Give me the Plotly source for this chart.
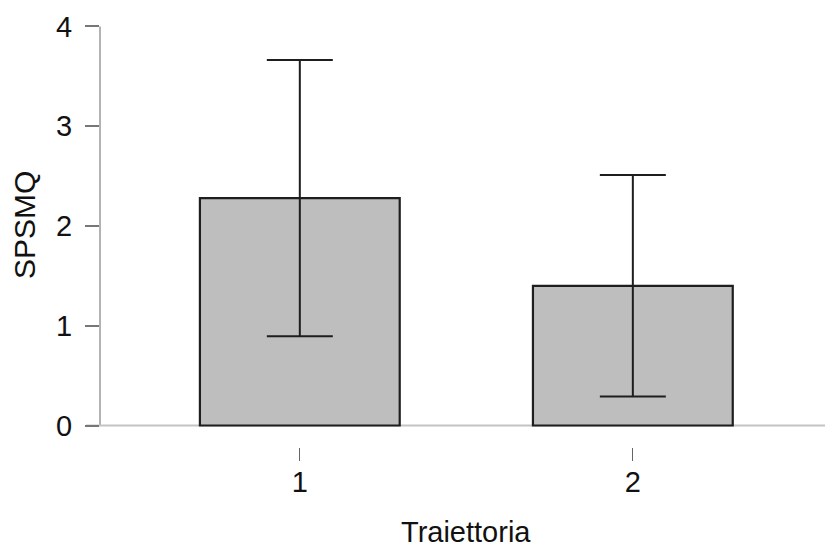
import plotly.graph_objects as go

# Mean SPSMQ score per trajectory group, with standard deviation
categories = ["1", "2"]
positions = [1, 2]
means = [2.28, 1.40]
sd = [1.385, 1.11]
y_ticks = [0, 1, 2, 3, 4]

FONT = "Liberation Sans, Arial, sans-serif"
FS = 29

fig = go.Figure()
fig.add_trace(go.Bar(
    x=positions,
    y=means,
    width=0.6,
    marker=dict(color="#bebebe", line=dict(color="#1e1e1e", width=2.2)),
    error_y=dict(type="data", array=sd, visible=True,
                 color="#1e1e1e", thickness=2, width=33),
    hoverinfo="skip",
))

# Axis lines: y axis spans the tick range only, x baseline runs across
fig.add_shape(type="line", xref="paper", yref="y", x0=0, x1=0, y0=0, y1=4,
              line=dict(color="#9a9a9a", width=1.5), layer="below")
fig.add_shape(type="line", xref="paper", yref="y", x0=-0.0193, x1=1, y0=0, y1=0,
              line=dict(color="#c4c4c4", width=1.8), layer="below")

fig.update_layout(
    width=825, height=548,
    margin=dict(l=100, r=0, t=20, b=101),
    paper_bgcolor="white", plot_bgcolor="white",
    showlegend=False,
    font=dict(family=FONT, size=FS, color="#111111"),
    xaxis=dict(range=[0.4, 2.577], tickvals=positions, ticktext=categories,
               showgrid=False, zeroline=False, showline=False,
               ticks="outside", ticklen=13, tickcolor="#666666", tickwidth=1,
               ticklabelstandoff=-4, fixedrange=True),
    yaxis=dict(range=[-0.2155, 4.065], tickvals=y_ticks,
               showgrid=False, zeroline=False, showline=False,
               ticks="outside", ticklen=14, tickcolor="#777777", tickwidth=1.5,
               ticklabelstandoff=7, fixedrange=True),
    annotations=[
        dict(text="Traiettoria", xref="paper", yref="paper",
             x=(466 - 100) / 725, y=-(532 - 447) / 427, xanchor="center",
             yanchor="middle", showarrow=False,
             font=dict(family=FONT, size=FS, color="#111111")),
        dict(text="SPSMQ", xref="paper", yref="paper",
             x=-(100 - 24) / 725, y=(427 - (225 - 20)) / 427, xanchor="center",
             yanchor="middle", textangle=-90, showarrow=False,
             font=dict(family=FONT, size=30, color="#111111")),
    ],
)

fig.write_html("out.html")
